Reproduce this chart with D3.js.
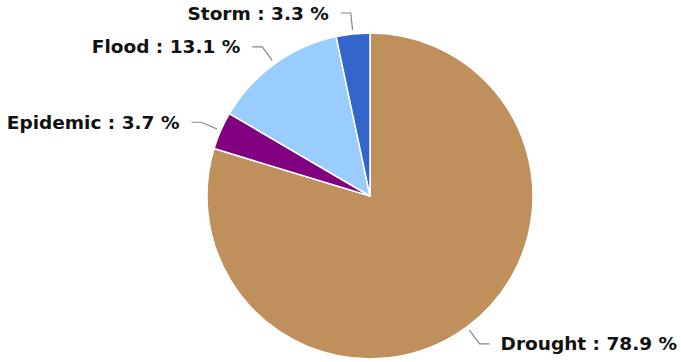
<!DOCTYPE html>
<html lang="en">
<head>
  <meta charset="utf-8" />
  <title>Disasters pie</title>
  <script src="https://d3js.org/d3.v7.min.js"></script>
  <style>
    body { margin: 0; background: #fff; }
    .lbl { font-family: "DejaVu Sans", Verdana, sans-serif; font-weight: bold; font-size: 18.5px; fill: #111; }
  </style>
</head>
<body>
<svg id="chart" width="681" height="362"></svg>
<script>
    var categories = ["Drought", "Epidemic", "Flood", "Storm"];
    var shares = [78.9, 3.7, 13.1, 3.3];
    var palette = ["#c0905c", "#800080", "#99ccff", "#3366cc"];

    var svg = d3.select("#chart");
    var cx = 370, cy = 196, r = 163;
    var color = d3.scaleOrdinal().domain(categories).range(palette);

    var data = categories.map(function(c, i) { return { name: c, value: shares[i] }; });
    var pie = d3.pie().sort(null).value(function(d) { return d.value; });
    var arcs = pie(data);

    var g = svg.append("g").attr("transform", "translate(" + cx + "," + cy + ")");
    var arc = d3.arc().innerRadius(0).outerRadius(r);

    g.selectAll("path.slice").data(arcs).enter().append("path")
        .attr("class", "slice")
        .attr("d", arc)
        .attr("fill", function(d) { return color(d.data.name); })
        .attr("stroke", "#fff")
        .attr("stroke-width", 1.5)
        .attr("stroke-linejoin", "round");

    var inner = d3.arc().innerRadius(r + 4).outerRadius(r + 4);
    var outer = d3.arc().innerRadius(r + 21).outerRadius(r + 21);

    arcs.forEach(function(d) {
        var mid = (d.startAngle + d.endAngle) / 2;
        var right = Math.sin(mid) > 0;
        var p0 = inner.centroid(d), p1 = outer.centroid(d);
        var p2 = [p1[0] + (right ? 10 : -10), p1[1]];
        g.append("polyline")
            .attr("points", [p0, p1, p2].map(function(p) { return p.join(","); }).join(" "))
            .attr("fill", "none").attr("stroke", "#888").attr("stroke-width", 1.2);
        g.append("text")
            .attr("class", "lbl")
            .attr("x", p2[0] + (right ? 11 : -12))
            .attr("y", p2[1])
            .attr("dy", "0.36em")
            .attr("text-anchor", right ? "start" : "end")
            .text(d.data.name + " : " + d3.format(".1f")(d.data.value) + " %");
    });
</script>
</body>
</html>
